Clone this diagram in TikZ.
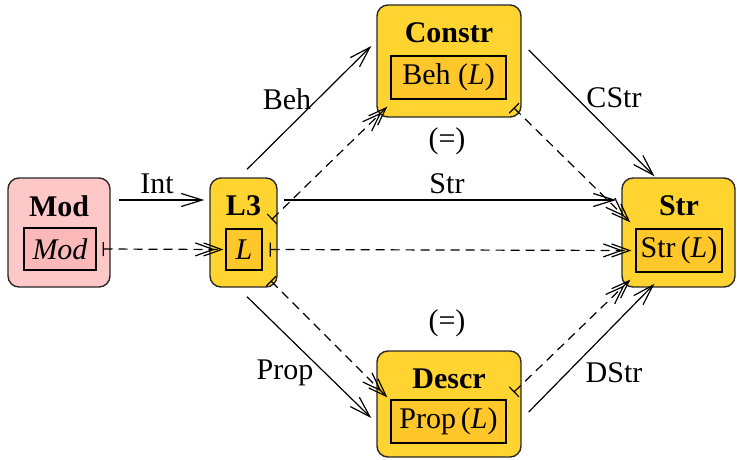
\documentclass[tikz,border=0pt]{standalone}
\usepackage{fontspec}
\setmainfont{Liberation Serif}
\usetikzlibrary{arrows.meta,calc}
\definecolor{outerY}{RGB}{255,212,48}
\definecolor{innerY}{RGB}{255,199,42}
\definecolor{outerP}{RGB}{255,200,200}
\definecolor{innerP}{RGB}{250,184,184}
\definecolor{edgeC}{RGB}{40,40,40}
\begin{document}
\begin{tikzpicture}[x=1pt,y=-1pt,
  every node/.style={font=\fontsize{30}{35}\selectfont, inner sep=0pt},
  outerbox/.style={draw=edgeC, line width=1.4pt, rounded corners=11pt, fill=outerY},
  outerpink/.style={outerbox, fill=outerP},
  innerbox/.style={draw=black, line width=1.2pt, fill=innerY},
  innerpink/.style={innerbox, fill=innerP},
  ttl/.style={font=\fontsize{30}{35}\selectfont\bfseries},
  arr/.style={draw, line width=1.2pt, -{Straight Barb[length=21pt,width=13pt,line width=1.2pt]}},
  darr/.style={draw, line width=1.2pt, dash pattern=on 9pt off 6pt,
     {Bar[width=14pt,line width=1.2pt]}-{Straight Barb[length=18pt,width=13pt,line width=1.2pt,sep=-12pt]Straight Barb[length=18pt,width=13pt,line width=1.2pt]}},
  lbl/.style={font=\fontsize{30}{35}\selectfont}
]
\useasboundingbox (0,0) rectangle (737,459);

% boxes
\node[outerpink, minimum width=102pt, minimum height=109pt] (mod) at (59,232.5) {};
\node[ttl] (modt) at (59,206) {Mod};
\node[innerpink, minimum width=72pt, minimum height=42pt] (modin) at (60,249) {\itshape Mod};

\node[outerbox, minimum width=67pt, minimum height=109pt] (l3) at (243.5,232.5) {};
\node[ttl] (l3t) at (243.5,206) {L3};
\node[innerbox, minimum width=36pt, minimum height=41pt] (lin) at (244,249.5) {\itshape L};

\node[outerbox, minimum width=144pt, minimum height=112pt] (constr) at (449,61) {};
\node[ttl] (constrt) at (449,33) {Constr};
\node[innerbox, minimum width=115pt, minimum height=43pt] (behin) at (448.5,77.5) {Beh (\textit{L})};

\node[outerbox, minimum width=144pt, minimum height=106pt] (descr) at (449,404) {};
\node[ttl] (descrt) at (449,379) {Descr};
\node[innerbox, minimum width=115pt, minimum height=43pt] (propin) at (448.5,421.5) {Prop\,(\textit{L})};

\node[outerbox, minimum width=113pt, minimum height=109pt] (str) at (678.5,232.5) {};
\node[ttl] (strt) at (679,206) {Str};
\node[innerbox, minimum width=86pt, minimum height=43pt] (strin) at (679,250.5) {Str\,(\textit{L})};

% solid arrows
\draw[arr] ([shift={(8,-32.5)}]mod.east) -- ([shift={(-5,-32.5)}]l3.west);
\draw[arr] ([shift={(3.5,-8)}]l3.north) -- ([shift={(-5,-15)}]constr.west);
\draw[arr] ([shift={(6,-32.5)}]l3.east) -- ([shift={(-5,-32.5)}]str.west);
\draw[arr] ([shift={(3.5,9)}]l3.south) -- ([shift={(-5,14)}]descr.west);
\draw[arr] ([shift={(7,-11)}]constr.east) -- ([shift={(-24,-1)}]str.north);
\draw[arr] ([shift={(7,8)}]descr.east) -- ([shift={(-24,-4)}]str.south);

% dashed arrows
\draw[darr] ([xshift=6pt]modin.east) -- ([xshift=-2pt]lin.west);
\draw[darr] ([shift={(-6,-13)}]l3.east) -- ([shift={(11,-11)}]constr.south west);
\draw[darr] ([shift={(-7,-7)}]l3.south east) -- ([shift={(11,47)}]descr.north west);
\draw[darr] ([xshift=7pt]lin.east) -- ([xshift=-4pt]strin.west);
\draw[darr] ([shift={(-8,-10)}]constr.south east) -- ([shift={(-5,-6)}]strin.north west);
\draw[darr] ([shift={(-8,42)}]descr.north east) -- ([shift={(-5,7)}]strin.south west);

% labels
\node[lbl] (lint) at (157,184) {Int};
\node[lbl] (lbeh) at (287,99) {Beh};
\node[lbl] (lstr) at (447,184) {Str};
\node[lbl] (lprop) at (285,373) {Prop};
\node[lbl] (lcstr) at (614,98) {CStr};
\node[lbl] (ldstr) at (614,373) {DStr};
\node[lbl] (eq1) at (447,141) {(=)};
\node[lbl] (eq2) at (447,323) {(=)};
\end{tikzpicture}
\end{document}
